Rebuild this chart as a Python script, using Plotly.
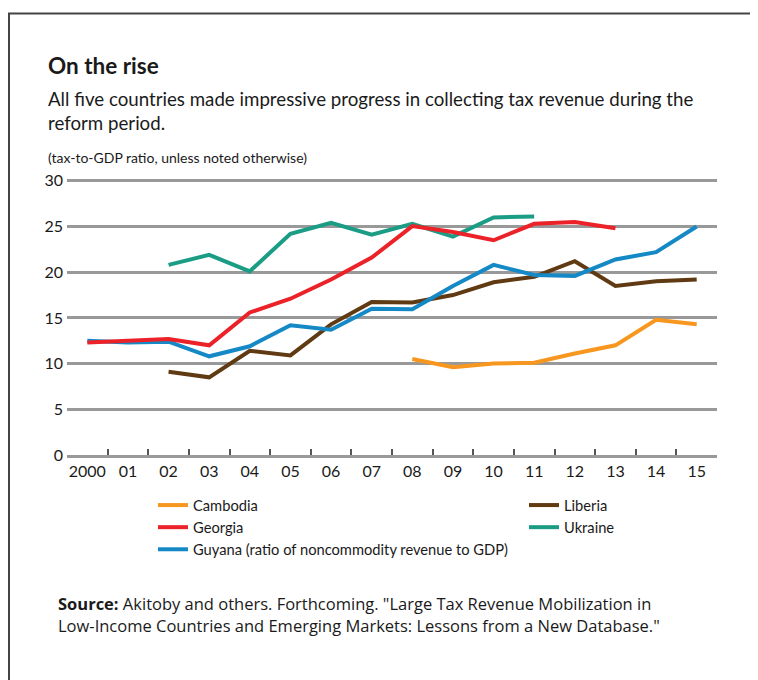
import plotly.graph_objects as go

years = ["2000", "01", "02", "03", "04", "05", "06", "07",
         "08", "09", "10", "11", "12", "13", "14", "15"]

cambodia = [None, None, None, None, None, None, None, None,
            10.5, 9.6, 10.0, 10.1, 11.1, 12.0, 14.8, 14.3]
liberia = [None, None, 9.1, 8.5, 11.4, 10.9, 14.3, 16.75,
           16.7, 17.5, 18.9, 19.5, 21.2, 18.5, 19.0, 19.2]
georgia = [12.3, 12.5, 12.7, 12.0, 15.6, 17.1, 19.2, 21.6,
           25.05, 24.4, 23.5, 25.3, 25.5, 24.8, None, None]
ukraine = [None, None, 20.8, 21.9, 20.1, 24.2, 25.4, 24.1,
           25.3, 23.9, 26.0, 26.1, None, None, None, None]
guyana = [12.5, 12.3, 12.4, 10.8, 11.9, 14.2, 13.7, 16.0,
          15.95, 18.5, 20.8, 19.7, 19.6, 21.4, 22.2, 25.0]

y_ticks = [0, 5, 10, 15, 20, 25, 30]

COND = "Lato, Roboto, sans-serif"
SRC = "Open Sans, sans-serif"
TXT = "#1a1a1a"

series = [
    # name, values, color, legend, rank
    ("Ukraine", ukraine, "#1B9C85", "legend2", 4),
    ("Liberia", liberia, "#603A12", "legend2", 2),
    ("Guyana (ratio of noncommodity revenue to GDP)", guyana, "#1589C5", "legend", 5),
    ("Cambodia", cambodia, "#F7971F", "legend", 1),
    ("Georgia", georgia, "#EC2229", "legend", 3),
]

fig = go.Figure()
for name, vals, color, leg, rank in series:
    fig.add_trace(go.Scatter(
        x=years, y=vals, name=name, mode="lines",
        line=dict(color=color, width=4),
        connectgaps=False, legend=leg, legendrank=rank,
    ))

OFF = 8  # page body margin
W, H = 758, 680
L, T = 67 - OFF, 179 - OFF
PW, PH = 650, 276
R, B = W - L - PW, H - T - PH
BOTTOM = 455  # screen y of plot bottom


def px(x):
    return (x - OFF - L) / PW


def py(y):
    return (BOTTOM - y) / PH


fig.update_layout(
    width=W, height=H,
    margin=dict(l=L, r=R, t=T, b=B, pad=0),
    paper_bgcolor="white", plot_bgcolor="white",
    font=dict(family=COND, size=16, color=TXT),
    xaxis=dict(
        type="category", range=[-0.5, 15.5], tickson="boundaries",
        ticks="inside", ticklen=6, tickwidth=1.5, tickcolor="#555",
        showgrid=False, showline=True, linecolor="#999", linewidth=3,
        tickfont=dict(family=COND, size=16, color=TXT), tickangle=0,
        fixedrange=True,
    ),
    yaxis=dict(
        range=[0, 30.2], tickvals=y_ticks, ticks="",
        showgrid=True, gridcolor="#999", gridwidth=3,
        zeroline=False, showline=False,
        tickfont=dict(family=COND, size=16, color=TXT),
        ticklabelstandoff=3,
        fixedrange=True,
    ),
    legend=dict(
        orientation="v", x=px(153), y=py(489), xanchor="left", yanchor="top",
        font=dict(family=COND, size=14.7, color=TXT),
        bgcolor="rgba(0,0,0,0)", tracegroupgap=0, itemwidth=30,
    ),
    legend2=dict(
        orientation="v", x=px(524), y=py(489), xanchor="left", yanchor="top",
        font=dict(family=COND, size=14.7, color=TXT),
        bgcolor="rgba(0,0,0,0)", tracegroupgap=0, itemwidth=30,
    ),
    showlegend=True,
)

annots = [
    dict(text="<b>On the rise</b>", x=px(46), y=py(66), size=22.5, family=COND),
    dict(text="All five countries made impressive progress in collecting tax revenue during the<br>reform period.",
         x=px(46), y=py(111.5), size=18.7, family=COND),
    dict(text="(tax-to-GDP ratio, unless noted otherwise)", x=px(46), y=py(157), size=14, family=COND),
    dict(text="<b>Source:</b> Akitoby and others. Forthcoming. \"Large Tax Revenue Mobilization in",
         x=px(56), y=py(603), size=16.5, family=SRC),
    dict(text="Low-Income Countries and Emerging Markets: Lessons from a New Database.\"",
         x=px(56), y=py(625), size=16.5, family=SRC),
]
for a in annots:
    fig.add_annotation(
        text=a["text"], x=a["x"], y=a["y"], xref="paper", yref="paper",
        xanchor="left", yanchor="middle", align="left", showarrow=False,
        font=dict(family=a["family"], size=a["size"], color=TXT),
    )

# frame around the figure
fig.add_shape(type="line", xref="paper", yref="paper",
              x0=px(8), x1=px(766), y0=py(13.5), y1=py(13.5),
              line=dict(color="#444", width=2))
fig.add_shape(type="line", xref="paper", yref="paper",
              x0=px(9), x1=px(9), y0=py(13.5), y1=py(690),
              line=dict(color="#444", width=2))

fig.write_html("out.html")
